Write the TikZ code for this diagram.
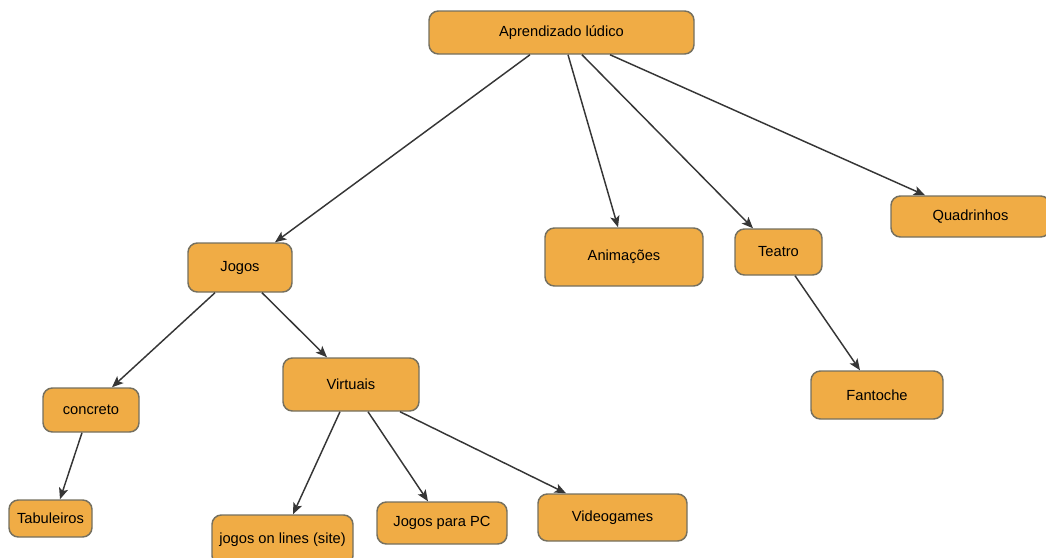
\documentclass[tikz,border=0pt]{standalone}
\usepackage{fontspec}
\setmainfont{Liberation Sans}
\usetikzlibrary{arrows.meta,calc}
\definecolor{boxfill}{HTML}{F0AC45}
\definecolor{boxline}{HTML}{75705F}
\definecolor{edgecol}{HTML}{363636}
\tikzset{
  conc/.style={draw=boxline, fill=boxfill, line width=1.1pt, rounded corners=7pt,
    inner sep=0pt, font=\fontsize{11}{13}\selectfont, text=black},
  link/.style={draw=edgecol, line width=1.1pt, -{Stealth[length=8.5pt,width=7pt,inset=2pt]}}
}
\begin{document}
\begin{tikzpicture}[x=0.75pt,y=-0.75pt]
\useasboundingbox (0,0) rectangle (1046,557);
\node[conc, minimum width=265*0.75pt, minimum height=43*0.75pt] (A) at (561.5,32.5) {Aprendizado lúdico};
\node[conc, minimum width=104*0.75pt, minimum height=49*0.75pt] (J) at (240,267.5) {Jogos};
\node[conc, minimum width=96*0.75pt, minimum height=44*0.75pt] (C) at (91,410) {concreto};
\node[conc, minimum width=83*0.75pt, minimum height=37*0.75pt] (T) at (50.5,518.5) {Tabuleiros};
\node[conc, minimum width=136*0.75pt, minimum height=53*0.75pt] (V) at (351,384.5) {Virtuais};
\node[conc, minimum width=141*0.75pt, minimum height=50*0.75pt] (O) at (282.5,540) {jogos on lines (site)};
\node[conc, minimum width=130*0.75pt, minimum height=42*0.75pt] (P) at (442,523) {Jogos para PC};
\node[conc, minimum width=149*0.75pt, minimum height=47*0.75pt] (G) at (612.5,517.5) {Videogames};
\node[conc, minimum width=158*0.75pt, minimum height=58*0.75pt] (N) at (624,257) {Animações};
\node[conc, minimum width=87*0.75pt, minimum height=46*0.75pt] (E) at (778.5,252) {Teatro};
\node[conc, minimum width=159*0.75pt, minimum height=41*0.75pt] (Q) at (970.5,216.5) {Quadrinhos};
\node[conc, minimum width=132*0.75pt, minimum height=48*0.75pt] (F) at (877,395) {Fantoche};

\draw[link] ($(A.south)+(-31.5,0)$) -- ($(J.north)+(35,0)$);
\draw[link] ($(A.south)+(6.5,0)$) -- ($(N.north)+(-6,0)$);
\draw[link] ($(A.south)+(20.5,0)$) -- ($(E.north)+(-25.5,0)$);
\draw[link] ($(A.south)+(48.5,0)$) -- ($(Q.north)+(-45.5,0)$);
\draw[link] ($(J.south)+(-25,0)$) -- ($(C.north)+(21,0)$);
\draw[link] ($(J.south)+(22,0)$) -- ($(V.north)+(-24,0)$);
\draw[link] ($(C.south)+(-9,0)$) -- ($(T.north)+(9.5,0)$);
\draw[link] ($(V.south)+(-11,0)$) -- ($(O.north)+(10.5,0)$);
\draw[link] ($(V.south)+(17,0)$) -- ($(P.north)+(-14,0)$);
\draw[link] ($(V.south)+(49,0)$) -- ($(G.north)+(-46.5,0)$);
\draw[link] ($(E.south)+(16.5,0)$) -- ($(F.north)+(-17,0)$);
\end{tikzpicture}
\end{document}
